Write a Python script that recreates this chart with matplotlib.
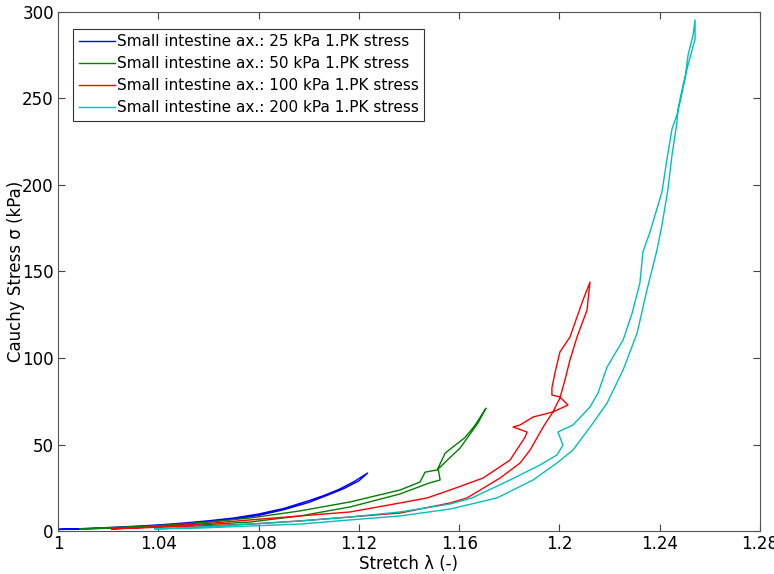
import numpy as np
import matplotlib
matplotlib.use("Agg")
import matplotlib.pyplot as plt

# loading / unloading branches, stretch (-) and Cauchy stress (kPa)
blue_up_x = [1.000, 1.010, 1.020, 1.030, 1.040, 1.050, 1.060, 1.070, 1.080,
             1.090, 1.100, 1.106, 1.112, 1.118, 1.1235]
blue_up_y = [1.0, 1.4, 2.0, 2.7, 3.5, 4.6, 5.9, 7.5, 9.8, 13.0, 17.5, 20.5,
             24.0, 28.5, 33.5]
blue_dn_x = [1.1235, 1.120, 1.114, 1.108, 1.100, 1.090, 1.080, 1.070, 1.060,
             1.050, 1.040, 1.030, 1.020, 1.010, 1.000]
blue_dn_y = [33.5, 29.0, 24.5, 21.0, 16.5, 12.3, 9.0, 6.8, 5.2, 4.0, 3.0,
             2.2, 1.6, 1.2, 0.9]

green_up_x = [1.0088, 1.0367, 1.0566, 1.0766, 1.0965, 1.1165, 1.1364, 1.1444,
              1.1464, 1.1512, 1.1604, 1.1675, 1.1707]
green_up_y = [1.2, 2.9, 4.8, 7.5, 11.6, 16.8, 23.7, 28.3, 34.0, 35.3, 48.0,
              62.4, 71.0]
green_dn_x = [1.1707, 1.1663, 1.1623, 1.1544, 1.1516, 1.1524, 1.1480, 1.1364,
              1.1165, 1.0965, 1.0766, 1.0566, 1.0370, 1.0088]
green_dn_y = [71.0, 61.0, 54.0, 45.0, 36.4, 29.5, 27.7, 21.4, 13.9, 8.7,
              5.2, 3.5, 2.3, 1.2]

red_up_x = [1.0215, 1.0367, 1.0566, 1.0766, 1.0965, 1.1165, 1.1364, 1.1472,
            1.1564, 1.1695, 1.1803, 1.1863, 1.1871, 1.1815, 1.1843, 1.1895,
            1.1974, 1.2034, 1.2002, 1.1970, 1.1970, 1.1982, 1.2002, 1.2042,
            1.2070, 1.2094, 1.2122]
red_up_y = [1.2, 2.3, 4.0, 6.4, 8.7, 11.0, 16.2, 19.1, 23.7, 30.6, 41.0,
            54.3, 57.2, 60.1, 61.3, 65.9, 68.8, 72.8, 77.5, 78.6, 82.7, 91.3,
            103.5, 112.1, 123.7, 133.5, 143.9]
red_dn_x = [1.2122, 1.2110, 1.2070, 1.2042, 1.2022, 1.2002, 1.1974, 1.1935,
            1.1883, 1.1843, 1.1763, 1.1631, 1.1564, 1.1364, 1.1165, 1.0965,
            1.0766, 1.0566, 1.0367, 1.0215]
red_dn_y = [143.9, 127.7, 112.1, 98.8, 87.3, 76.9, 68.8, 60.1, 46.8, 39.3,
            30.6, 19.1, 16.2, 10.4, 8.1, 5.8, 4.0, 2.9, 2.0, 1.2]

cyan_up_x = [1.0387, 1.0566, 1.0766, 1.0965, 1.1165, 1.1364, 1.1564, 1.1651,
             1.1803, 1.1923, 1.1990, 1.2014, 1.1994, 1.2054, 1.2122, 1.2154,
             1.2190, 1.2254, 1.2290, 1.2321, 1.2333, 1.2361, 1.2409, 1.2429,
             1.2449, 1.2469, 1.2481, 1.2501, 1.2513, 1.2533, 1.2541]
cyan_up_y = [1.2, 2.3, 4.0, 5.8, 8.1, 11.0, 15.6, 19.1, 29.5, 38.2, 43.9,
             49.7, 57.2, 61.3, 71.7, 79.8, 94.8, 110.4, 126.0, 143.4, 161.3,
             172.8, 196.0, 215.0, 232.4, 240.5, 248.0, 261.3, 275.1, 286.7,
             295.4]
cyan_dn_x = [1.2541, 1.2541, 1.2513, 1.2493, 1.2473, 1.2469, 1.2449, 1.2433,
             1.2409, 1.2389, 1.2349, 1.2310, 1.2254, 1.2190, 1.2134, 1.2054,
             1.1990, 1.1895, 1.1751, 1.1564, 1.1364, 1.1165, 1.0965, 1.0766,
             1.0566, 1.0387]
cyan_dn_y = [295.4, 284.4, 269.4, 257.8, 243.9, 236.4, 217.3, 197.7, 176.9,
             162.4, 139.3, 114.5, 93.1, 74.0, 62.4, 46.8, 39.3, 29.5, 19.1,
             12.7, 8.7, 6.4, 4.0, 2.9, 1.7, 1.2]

labels = ["Small intestine ax.: 25 kPa 1.PK stress",
          "Small intestine ax.: 50 kPa 1.PK stress",
          "Small intestine ax.: 100 kPa 1.PK stress",
          "Small intestine ax.: 200 kPa 1.PK stress"]
colors = [(0, 0, 1), (0, 0.5, 0), (1, 0, 0), (0, 0.75, 0.75)]

series = [
    (blue_up_x + blue_dn_x, blue_up_y + blue_dn_y),
    (green_up_x + green_dn_x, green_up_y + green_dn_y),
    (red_up_x + red_dn_x, red_up_y + red_dn_y),
    (cyan_up_x + cyan_dn_x, cyan_up_y + cyan_dn_y),
]

plt.rcParams["font.family"] = "DejaVu Sans"

fig = plt.figure(figsize=(7.74, 5.74), dpi=100)
ax = fig.add_axes([58 / 774, 43 / 574, 702 / 774, 519 / 574])

for (xs, ys), c, lab in zip(series, colors, labels):
    ax.plot(xs, ys, color=c, lw=1.0, label=lab)

ax.set_xlim(1, 1.28)
ax.set_ylim(0, 300)
ax.set_xticks(np.arange(1, 1.281, 0.04))
ax.set_xticklabels(["1", "1.04", "1.08", "1.12", "1.16", "1.2", "1.24", "1.28"])
ax.set_yticks(np.arange(0, 301, 50))

ax.tick_params(direction="in", length=5, width=0.8, top=True, right=True,
               labelsize=12, color="#444444", pad=3)
for sp in ax.spines.values():
    sp.set_color("#555555")
    sp.set_linewidth(0.8)

ax.set_xlabel("Stretch \u03bb (-)", fontsize=12, labelpad=1)
ax.set_ylabel("Cauchy Stress \u03c3 (kPa)", fontsize=12, labelpad=-2)

leg = ax.legend(loc="upper left", bbox_to_anchor=(0.022, 0.968), fontsize=11,
                fancybox=False, framealpha=1, edgecolor="#333333",
                handlelength=2.4, handletextpad=0.1, borderpad=0.35,
                labelspacing=0.47, borderaxespad=0)
leg.get_frame().set_linewidth(0.8)

fig.savefig("out.png", dpi=100)
